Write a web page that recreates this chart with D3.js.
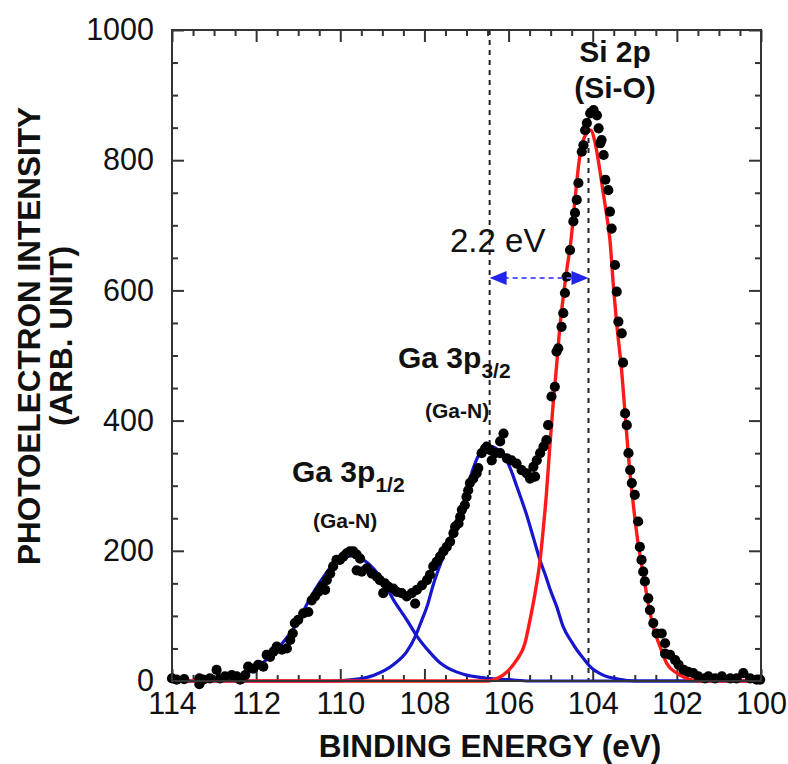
<!DOCTYPE html>
<html>
<head>
<meta charset="utf-8">
<script src="https://cdn.jsdelivr.net/npm/d3@7"></script>
<style>
  html, body { margin: 0; padding: 0; background: #fff; }
  svg { display: block; font-family: "Liberation Sans", Arial, Helvetica, sans-serif; }
</style>
</head>
<body>
<div id="chart"></div>
<script>
// measured XPS points [binding energy (eV), intensity]
const dataPoints = [
  [114.0,4],[113.89,2],[113.71,3],[113.35,4],[113.35,-5],[113.26,2],[113.1,4],[112.94,17],[112.86,4],
  [112.74,7],[112.58,9],[112.46,7],[112.38,2],[112.26,9],[112.19,22],[112.07,19],[111.95,25],[111.83,22],
  [111.75,40],[111.67,37],[111.59,45],[111.51,53],[111.39,48],[111.27,50],[111.19,63],[111.13,73],
  [111.08,89],[111.0,94],[110.88,104],[110.76,106],[110.68,124],[110.6,130],[110.52,137],[110.44,145],
  [110.36,140],[110.32,155],[110.24,165],[110.17,176],[110.09,186],[110.01,186],[109.93,191],[109.85,196],
  [109.77,199],[109.69,199],[109.61,194],[109.53,188],[109.61,170],[109.49,168],[109.37,173],[109.25,165],
  [109.13,160],[109.06,155],[108.94,150],[108.86,145],[108.98,135],[108.74,142],[108.66,137],[108.54,135],
  [108.42,130],[108.3,135],[108.22,119],[108.18,140],[108.06,147],[107.94,155],[107.87,163],[107.79,176],
  [107.71,183],[107.63,191],[107.55,199],[107.47,206],[107.39,214],[107.31,227],[107.27,237],[107.19,242],
  [107.15,252],[107.11,263],[107.04,270],[107.0,283],[106.96,293],[106.92,304],[106.84,311],[106.76,319],
  [106.72,327],[106.64,350],[106.56,357],[106.52,360],[106.44,355],[106.4,339],[106.32,350],[106.2,350],
  [106.2,368],[106.12,380],[106.04,342],[105.93,339],[105.81,334],[105.69,324],[105.57,319],[105.49,311],
  [105.41,329],[105.37,314],[105.33,339],[105.25,350],[105.17,360],[105.1,370],[105.06,393],[104.98,437],
  [104.9,452],[104.86,506],[104.82,511],[104.74,544],[104.7,565],[104.66,596],[104.62,621],[104.54,662],
  [104.46,706],[104.42,719],[104.38,739],[104.34,765],[104.26,813],[104.22,823],[104.18,846],[104.14,857],
  [104.06,872],[103.98,877],[103.9,869],[103.86,849],[103.82,826],[103.79,831],[103.74,808],[103.7,770],
  [103.63,754],[103.59,721],[103.55,695],[103.47,639],[103.43,598],[103.39,552],[103.31,534],[103.28,489],
  [103.23,411],[103.19,393],[103.15,350],[103.11,324],[103.07,304],[103.0,286],[102.92,245],[102.88,206],
  [102.84,186],[102.8,168],[102.76,153],[102.68,127],[102.64,109],[102.56,89],[102.48,73],[102.36,73],
  [102.28,58],[102.28,42],[102.16,40],[102.04,32],[101.96,25],[101.84,17],[101.73,14],[101.61,12],
  [101.49,7],[101.33,4],[101.25,7],[101.09,4],[100.93,7],[100.73,4],[100.58,4],[100.42,12],[100.26,4],
  [100.1,2],[100.02,2]
]

// fitted components
const ga12Fit = [
  [114,0],[113,0],[112.6,3],[112.2,12],[111.9,25],[111.6,42],[111.3,64],[111.0,92],[110.8,117],
  [110.6,140],[110.4,160],[110.2,177],[110.0,188],[109.8,192],[109.6,190],[109.4,184],[109.2,172],
  [109.0,155],[108.74,125],[108.42,94],[108.2,71],[107.87,44],[107.63,28],[107.47,21],[107.24,14],
  [107.0,9],[106.84,7],[106.5,4],[106.0,2],[105.5,0],[100,0]
]
const ga32Fit = [
  [114,0],[110.2,0],[109.7,2],[109.2,9],[108.74,25],[108.42,45],[108.2,71],[108.06,94],[107.94,114],
  [107.79,148],[107.63,178],[107.47,205],[107.31,232],[107.15,258],[107.0,290],[106.85,325],[106.7,348],
  [106.55,358],[106.4,360],[106.25,355],[106.1,345],[105.95,325],[105.81,300],[105.7,280],[105.57,255],
  [105.4,218],[105.25,185],[105.1,158],[105.02,142],[104.86,115],[104.7,83],[104.5,60],[104.38,48],
  [104.2,33],[104.06,22],[103.75,9],[103.4,3],[103.0,0],[100,0]
]
const si2pFit = [
  [114,0],[107,0],[106.5,0],[106.24,5],[106.04,14],[105.81,32],[105.61,58],[105.49,94],[105.37,135],
  [105.25,186],[105.17,237],[105.1,288],[105.02,360],[104.94,426],[104.86,483],[104.78,544],[104.7,590],
  [104.62,630],[104.52,675],[104.42,740],[104.32,800],[104.2,835],[104.05,846],[103.94,826],[103.82,780],
  [103.7,729],[103.59,677],[103.5,600],[103.43,549],[103.31,475],[103.23,410],[103.15,345],[103.03,268],
  [102.92,211],[102.8,165],[102.68,119],[102.56,83],[102.4,53],[102.24,27],[102.0,12],[101.77,4],
  [101.5,0],[100,0]
]

const xMajorTicks = [114, 112, 110, 108, 106, 104, 102, 100]
const yMajorTicks = [0, 200, 400, 600, 800, 1000]
const refLines = [106.45, 104.1]
const shiftArrow = { from: 106.45, to: 104.1, level: 619, label: '2.2 eV' }

const width = 788
const height = 764
const margin = { top: 30, right: 27, bottom: 83, left: 172 }
const plotW = width - margin.left - margin.right
const plotH = height - margin.top - margin.bottom

const svg = d3.select('#chart')
  .append('svg')
  .attr('width', width)
  .attr('height', height)

const x = d3.scaleLinear().domain([114, 100]).range([0, plotW])
const y = d3.scaleLinear().domain([0, 1000]).range([plotH, 0])

const g = svg.append('g')
  .attr('transform', `translate(${margin.left},${margin.top})`)

const xMinor = d3.range(100, 114.01, 0.5).filter(v => !xMajorTicks.includes(v))
const yMinor = d3.range(0, 1001, 50).filter(v => !yMajorTicks.includes(v))

const axisColor = '#333'
const styleAxis = sel => {
  sel.select('.domain').remove()
  sel.selectAll('line').attr('stroke', axisColor).attr('stroke-width', 2)
  sel.selectAll('text').attr('fill', '#111').attr('font-size', '30.5px')
}

// bottom axis
g.append('g').attr('transform', `translate(0,${plotH})`)
  .call(d3.axisBottom(x).tickValues(xMajorTicks).tickSize(-12).tickPadding(11).tickFormat(d3.format('d')))
  .call(styleAxis)
g.append('g').attr('transform', `translate(0,${plotH})`)
  .call(d3.axisBottom(x).tickValues(xMinor).tickSize(-6).tickFormat(''))
  .call(styleAxis)
// top axis
g.append('g')
  .call(d3.axisTop(x).tickValues(xMajorTicks).tickSize(-12).tickFormat(''))
  .call(styleAxis)
g.append('g')
  .call(d3.axisTop(x).tickValues(xMinor).tickSize(-6).tickFormat(''))
  .call(styleAxis)
// left axis
g.append('g')
  .call(d3.axisLeft(y).tickValues(yMajorTicks).tickSize(-12).tickPadding(18).tickFormat(d3.format('d')))
  .call(styleAxis)
g.append('g')
  .call(d3.axisLeft(y).tickValues(yMinor).tickSize(-6).tickFormat(''))
  .call(styleAxis)
// right axis
g.append('g').attr('transform', `translate(${plotW},0)`)
  .call(d3.axisRight(y).tickValues(yMajorTicks).tickSize(-12).tickFormat(''))
  .call(styleAxis)
g.append('g').attr('transform', `translate(${plotW},0)`)
  .call(d3.axisRight(y).tickValues(yMinor).tickSize(-6).tickFormat(''))
  .call(styleAxis)

// reference dashed lines
g.append('line')
  .attr('x1', x(refLines[0])).attr('x2', x(refLines[0]))
  .attr('y1', y(1000)).attr('y2', y(0))
  .attr('stroke', '#222').attr('stroke-width', 2).attr('stroke-dasharray', '5,5')
g.append('line')
  .attr('x1', x(refLines[1])).attr('x2', x(refLines[1]))
  .attr('y1', y(880)).attr('y2', y(0))
  .attr('stroke', '#222').attr('stroke-width', 2).attr('stroke-dasharray', '5,5')

// fit curves
const line = d3.line()
  .x(d => x(d[0]))
  .y(d => y(d[1]))
  .curve(d3.curveMonotoneX)

const blue = '#1616cc'
g.append('path').datum(ga12Fit.slice().reverse())
  .attr('fill', 'none').attr('stroke', blue).attr('stroke-width', 3.2).attr('d', line)
g.append('path').datum(ga32Fit.slice().reverse())
  .attr('fill', 'none').attr('stroke', blue).attr('stroke-width', 3.2).attr('d', line)
g.append('path').datum(si2pFit.slice().reverse())
  .attr('fill', 'none').attr('stroke', '#ff1a1a').attr('stroke-width', 3.4).attr('d', line)

// data points
g.selectAll('.pt')
  .data(dataPoints)
  .join('circle')
  .attr('class', 'pt')
  .attr('cx', d => x(d[0]))
  .attr('cy', d => y(d[1]))
  .attr('r', 5.1)
  .attr('fill', '#000')

// frame
g.append('rect')
  .attr('width', plotW).attr('height', plotH)
  .attr('fill', 'none').attr('stroke', axisColor).attr('stroke-width', 2)

// 2.2 eV arrow
const ax1 = x(shiftArrow.from)
const ax2 = x(shiftArrow.to)
const ay = y(shiftArrow.level)
g.append('line')
  .attr('x1', ax1 + 14).attr('x2', ax2 - 14)
  .attr('y1', ay).attr('y2', ay)
  .attr('stroke', '#5a5aff').attr('stroke-width', 2).attr('stroke-dasharray', '5,4')
g.append('path')
  .attr('d', `M${ax1},${ay} L${ax1 + 17},${ay - 7} L${ax1 + 17},${ay + 7} Z`)
  .attr('fill', '#2323f0')
g.append('path')
  .attr('d', `M${ax2},${ay} L${ax2 - 17},${ay - 7} L${ax2 - 17},${ay + 7} Z`)
  .attr('fill', '#2323f0')
svg.append('text')
  .attr('x', 450).attr('y', 252)
  .attr('font-size', '33px').attr('fill', '#111')
  .text(shiftArrow.label)

// peak labels
const labels = svg.append('g').attr('fill', '#111').attr('font-weight', 'bold')
labels.append('text').attr('x', 615).attr('y', 62).attr('text-anchor', 'middle')
  .attr('font-size', '30px').text('Si 2p')
labels.append('text').attr('x', 615).attr('y', 98).attr('text-anchor', 'middle')
  .attr('font-size', '30px').text('(Si-O)')

const ga32 = labels.append('text').attr('x', 398).attr('y', 368).attr('font-size', '30px')
ga32.append('tspan').text('Ga 3p')
ga32.append('tspan').attr('font-size', '21px').attr('dy', 10).text('3/2')
labels.append('text').attr('x', 425).attr('y', 418).attr('font-size', '21px').text('(Ga-N)')

const ga12 = labels.append('text').attr('x', 292).attr('y', 482).attr('font-size', '30px')
ga12.append('tspan').text('Ga 3p')
ga12.append('tspan').attr('font-size', '21px').attr('dy', 10).text('1/2')
labels.append('text').attr('x', 313).attr('y', 528).attr('font-size', '21px').text('(Ga-N)')

// axis titles
svg.append('text')
  .attr('x', 490).attr('y', 757)
  .attr('text-anchor', 'middle')
  .attr('font-size', '31.5px').attr('font-weight', 'bold').attr('fill', '#111')
  .text('BINDING ENERGY (eV)')
svg.append('text')
  .attr('transform', 'translate(40,336) rotate(-90)')
  .attr('text-anchor', 'middle')
  .attr('font-size', '31.5px').attr('font-weight', 'bold').attr('fill', '#111')
  .text('PHOTOELECTRON INTENSITY')
svg.append('text')
  .attr('transform', 'translate(72,336) rotate(-90)')
  .attr('text-anchor', 'middle')
  .attr('font-size', '31.5px').attr('font-weight', 'bold').attr('fill', '#111')
  .text('(ARB. UNIT)')
</script>
</body>
</html>
